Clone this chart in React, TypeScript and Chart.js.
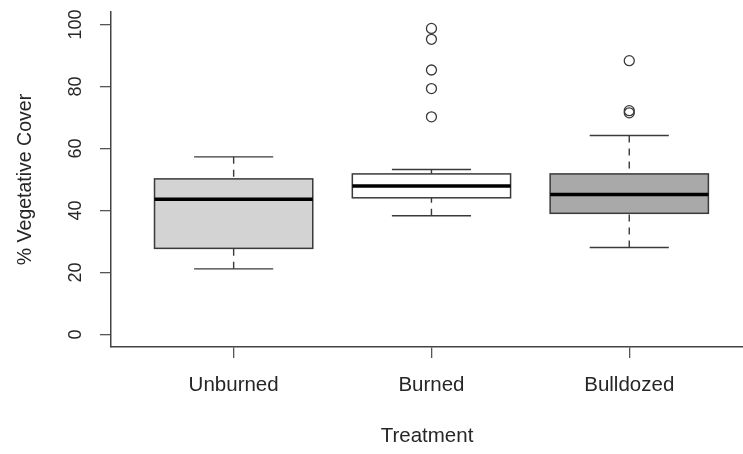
import React, { useEffect, useRef } from 'react';
import { Chart, registerables } from 'chart.js';

Chart.register(...registerables);

// ---- data ----
const categories = ['Unburned', 'Burned', 'Bulldozed'];
const lowerWhisker = [21.2, 38.3, 28.1];
const lowerQuartile = [27.8, 44.1, 39.1];
const medians = [43.6, 47.9, 45.2];
const upperQuartile = [50.2, 51.8, 51.8];
const upperWhisker = [57.3, 53.2, 64.2];
const burnedOutliers = [98.7, 95.2, 85.3, 79.3, 70.2];
const bulldozedOutliers = [88.3, 72.2, 71.5];
const yTicks = [0, 20, 40, 60, 80, 100];
const boxFills = ['#d3d3d3', '#ffffff', '#a9a9a9'];

const FONT = "'Liberation Sans', Arial, Helvetica, sans-serif";
const INK = '#3a3a3a';
const TEXT = '#262626';

const boxPlugin = {
  id: 'boxplots',
  beforeDatasetsDraw(chart: any) {
    const { ctx, scales } = chart;
    const x = scales.x;
    const y = scales.y;
    const line = (x1: number, y1: number, x2: number, y2: number) => {
      ctx.beginPath();
      ctx.moveTo(x1, y1);
      ctx.lineTo(x2, y2);
      ctx.stroke();
    };
    ctx.save();
    categories.forEach((_c, i) => {
      const pos = i + 1;
      const xl = x.getPixelForValue(pos - 0.4);
      const xr = x.getPixelForValue(pos + 0.4);
      const xc = x.getPixelForValue(pos);
      const cl = x.getPixelForValue(pos - 0.2);
      const cr = x.getPixelForValue(pos + 0.2);
      const ylw = y.getPixelForValue(lowerWhisker[i]);
      const yq1 = y.getPixelForValue(lowerQuartile[i]);
      const ym = y.getPixelForValue(medians[i]);
      const yq3 = y.getPixelForValue(upperQuartile[i]);
      const yuw = y.getPixelForValue(upperWhisker[i]);

      ctx.strokeStyle = INK;
      ctx.lineWidth = 1.4;
      ctx.setLineDash([7, 6]);
      line(xc, ylw, xc, yq1);
      line(xc, yuw, xc, yq3);
      ctx.setLineDash([]);
      line(cl, ylw, cr, ylw);
      line(cl, yuw, cr, yuw);

      ctx.fillStyle = boxFills[i];
      ctx.fillRect(xl, yq3, xr - xl, yq1 - yq3);
      ctx.lineWidth = 1.5;
      ctx.strokeRect(xl, yq3, xr - xl, yq1 - yq3);

      ctx.strokeStyle = '#000000';
      ctx.lineWidth = 3.5;
      line(xl, ym, xr, ym);
    });
    ctx.restore();
  },
};

const noPad = (scale: any) => {
  scale.paddingTop = 0;
  scale.paddingBottom = 0;
  scale.paddingLeft = 0;
  scale.paddingRight = 0;
};

export default function App() {
  const canvasRef = useRef<HTMLCanvasElement | null>(null);

  useEffect(() => {
    document.body.style.margin = '0';
    const canvas = canvasRef.current;
    if (!canvas) return;

    const chart = new Chart(canvas, {
      type: 'scatter',
      data: {
        datasets: [
          {
            label: 'Burned outliers',
            data: burnedOutliers.map((v) => ({ x: categories.indexOf('Burned') + 1, y: v })),
          },
          {
            label: 'Bulldozed outliers',
            data: bulldozedOutliers.map((v) => ({ x: categories.indexOf('Bulldozed') + 1, y: v })),
          },
        ],
      },
      options: {
        responsive: false,
        animation: false,
        events: [],
        layout: { autoPadding: false, padding: { top: 12, right: 0, left: 0, bottom: 0 } },
        elements: {
          point: {
            radius: 5,
            borderWidth: 1.3,
            borderColor: INK,
            backgroundColor: 'rgba(0,0,0,0)',
            pointStyle: 'circle',
          },
        },
        plugins: {
          legend: { display: false },
          tooltip: { enabled: false },
        },
        scales: {
          x: {
            type: 'linear',
            min: 0.38,
            max: 3.575,
            afterBuildTicks: (scale: any) => {
              scale.ticks = categories.map((_c, i) => ({ value: i + 1 }));
            },
            afterFit: (scale: any) => {
              scale.height = 107;
              noPad(scale);
            },
            ticks: {
              autoSkip: false,
              maxRotation: 0,
              minRotation: 0,
              padding: 15,
              color: TEXT,
              font: { family: FONT, size: 20.5 },
              callback: (value: any) => categories[Math.round(Number(value)) - 1] ?? '',
            },
            grid: {
              display: true,
              drawOnChartArea: false,
              drawTicks: true,
              tickLength: 11,
              color: '#555555',
              lineWidth: 1.3,
            },
            border: { display: true, color: '#444444', width: 1.5 },
            title: {
              display: true,
              text: 'Treatment',
              color: TEXT,
              font: { family: FONT, size: 20.5 },
              padding: { top: 0, bottom: 5 },
            },
          },
          y: {
            type: 'linear',
            min: -4,
            max: 104,
            afterBuildTicks: (scale: any) => {
              scale.ticks = yTicks.map((v) => ({ value: v }));
            },
            afterFit: (scale: any) => {
              scale.width = 111;
              noPad(scale);
            },
            ticks: {
              autoSkip: false,
              minRotation: 90,
              maxRotation: 90,
              crossAlign: 'center',
              padding: 9,
              color: TEXT,
              font: { family: FONT, size: 18 },
              callback: (value: any) => String(value),
            },
            grid: {
              display: true,
              drawOnChartArea: false,
              drawTicks: true,
              tickLength: 11,
              color: '#555555',
              lineWidth: 1.3,
            },
            border: { display: true, color: '#444444', width: 1.5 },
            title: {
              display: true,
              text: '% Vegetative Cover',
              color: TEXT,
              font: { family: FONT, size: 19.5 },
              padding: { top: 14, bottom: 0 },
            },
          },
        },
      },
      plugins: [boxPlugin],
    } as any);

    return () => {
      chart.destroy();
    };
  }, []);

  return (
    <canvas
      ref={canvasRef}
      width={743}
      height={454}
      style={{ display: 'block', width: '743px', height: '454px' }}
    />
  );
}
